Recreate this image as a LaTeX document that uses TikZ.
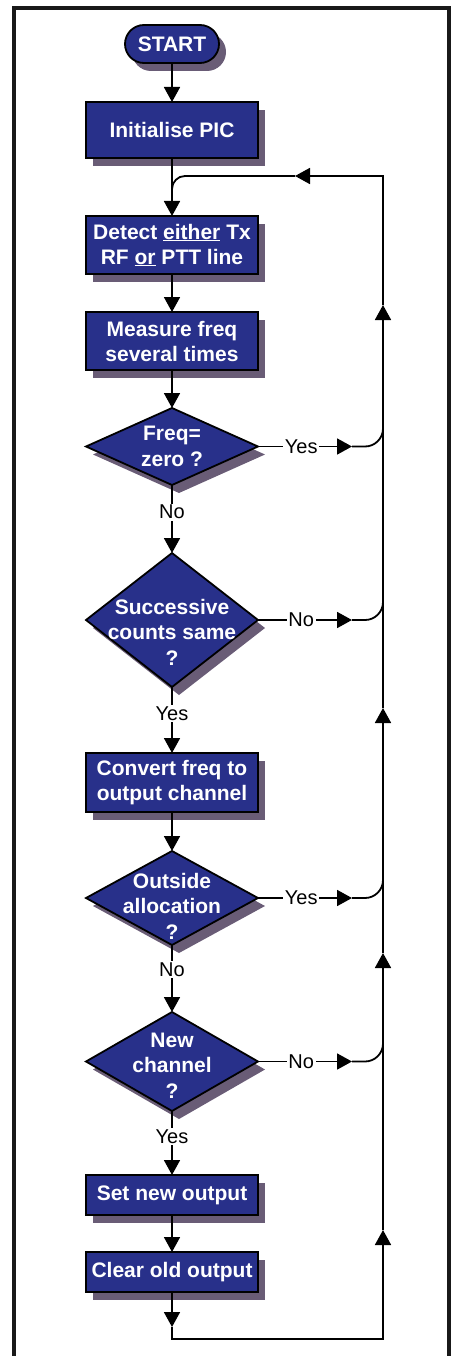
\documentclass[tikz,border=0pt]{standalone}
\usepackage{fontspec}
\setmainfont{Liberation Sans}
\usepackage{tikz}
\definecolor{boxblue}{RGB}{40,48,138}
\definecolor{speckle}{RGB}{105,92,118}
\tikzstyle{dropped}=[drop shadow={shadow xshift=7pt,shadow yshift=-8pt,fill=speckle,opacity=1}]
\tikzstyle{block}=[draw,line width=1.8pt,fill=boxblue,text=white,dropped,minimum width=172pt,inner sep=0pt,outer sep=0pt,align=center,font=\fontsize{21}{25}\selectfont\bfseries]
\tikzstyle{terminal}=[block,rounded rectangle,minimum width=94pt,minimum height=38pt]
\tikzstyle{decision}=[block,diamond]
\tikzstyle{dtext}=[text=white,align=center,inner sep=0pt,font=\fontsize{21}{25.5}\selectfont\bfseries]
\tikzstyle{lbl}=[fill=white,inner sep=1.5pt,font=\fontsize{20}{24}\selectfont]
\tikzstyle{line}=[line width=1.8pt]
\tikzstyle{arrow}=[line,-{Triangle[width=16pt,length=15pt]}]
\usetikzlibrary{shapes.geometric,shapes.misc,arrows.meta,positioning,shadows}

\begin{document}
\begin{tikzpicture}[x=1pt,y=1pt,node distance=38pt]
    \useasboundingbox (0,0) rectangle (456,-1356);
    \draw[line width=3.5pt,black!90] (14,-1356) -- (14,-8) -- (449,-8) -- (449,-1356);
    \node (start) [terminal] at (172,-44) {START};
    \node (init) [block,below=39pt of start,minimum height=56pt] {Initialise PIC};
    \node (detect) [block,below=58pt of init,minimum height=58pt] {Detect \underline{either} Tx\\RF \underline{or} PTT line};
    \node (measure) [block,below=of detect,minimum height=58pt] {Measure freq\\several times};
    \node (zero) [decision,below=of measure,minimum height=77pt,label={[dtext]center:{Freq=\\zero ?}}] {};
    \node (same) [decision,below=68pt of zero,minimum height=134pt,label={[dtext,yshift=-12pt]center:{Successive\\counts same\\?}}] {};
    \node (convert) [block,below=66pt of same,minimum height=59pt] {Convert freq to\\output channel};
    \node (outside) [decision,below=39pt of convert,minimum height=94pt,label={[dtext,yshift=-8pt]center:{Outside\\allocation\\?}}] {};
    \node (newch) [decision,below=67pt of outside,minimum height=99pt,label={[dtext,yshift=-4pt]center:{New\\channel\\?}}] {};
    \node (setout) [block,below=64pt of newch,minimum height=40pt] {Set new output};
    \node (clear) [block,below=37pt of setout,minimum height=40pt] {Clear old output};
    % return path on the right
    \coordinate (ltop) at (383,-176);
    \coordinate (lin) at (295,-176);
    \coordinate (lbot) at (383,-1339);
    \coordinate (dn) at (172,-1327);
    \coordinate (u1) at (383,-305);
    \coordinate (u2) at (383,-708);
    \coordinate (u3) at (383,-953);
    \coordinate (u4) at (383,-1230);
    \path[arrow]
        (start) edge (init)
        (init) edge (detect)
        (detect) edge (measure)
        (measure) edge (zero)
        (zero) edge node[lbl,pos=.4]{No} (same)
        (same) edge node[lbl,pos=.4]{Yes} (convert)
        (convert) edge (outside)
        (outside) edge node[lbl,pos=.37]{No} (newch)
        (newch) edge node[lbl,pos=.4]{Yes} (setout)
        (setout) edge (clear)
        (clear) edge (dn);
    \foreach \d/\t in {zero/Yes,same/No,outside/Yes,newch/No} {
        \draw[arrow] (\d.east) -- node[lbl,pos=.46]{\t} ++(94,0) coordinate (\d tip);
        \draw[line,rounded corners=18pt] (\d tip) -- (\d tip -| ltop) -- ++(0,30);
    }
    \draw[arrow] (dn) |- (lbot) -- (u4);
    \draw[arrow] (u4) -- (u3);
    \draw[arrow] (u3) -- (u2);
    \draw[arrow] (u2) -- (u1);
    \draw[arrow] (u1) -- (ltop) -- (lin);
    \draw[line,rounded corners=13pt] (lin) -- (init.south |- ltop) -- ++(0,-25);
\end{tikzpicture}
\end{document}
